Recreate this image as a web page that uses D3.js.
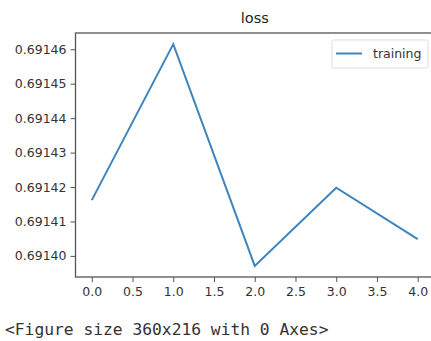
<!DOCTYPE html>
<html>
<head>
<meta charset="utf-8">
<script src="https://cdn.jsdelivr.net/npm/d3@7"></script>
<style>
  html, body { margin: 0; padding: 0; background: #fff; }
  svg { display: block; }
</style>
</head>
<body>
<div id="chart"></div>
<script>
(function() {
  const width = 431;
  const height = 341;

  // data
  const epochs = [0, 1, 2, 3, 4];
  const loss = [0.6914162, 0.6914615, 0.6913971, 0.6914198, 0.6914049];
  const xTicks = [0, 0.5, 1, 1.5, 2, 2.5, 3, 3.5, 4];
  const yTicks = [0.69140, 0.69141, 0.69142, 0.69143, 0.69144, 0.69145, 0.69146];
  const seriesName = "training";
  const title = "loss";
  const footer = "<Figure size 360x216 with 0 Axes>";

  const m = { left: 75.5, right: 434, top: 33, bottom: 277 };
  const sans = "'DejaVu Sans', sans-serif";

  const svg = d3.select("#chart")
    .append("svg")
    .attr("width", width)
    .attr("height", height)
    .style("font-family", sans);

  // matplotlib-style 5% margins
  const xPad = (d3.max(epochs) - d3.min(epochs)) * 0.05;
  const yPad = (d3.max(loss) - d3.min(loss)) * 0.05;

  const x = d3.scaleLinear()
    .domain([d3.min(epochs) - xPad, d3.max(epochs) + xPad])
    .range([m.left, m.right]);
  const y = d3.scaleLinear()
    .domain([d3.min(loss) - yPad, d3.max(loss) + yPad])
    .range([m.bottom, m.top]);

  // Axes
  const xAxis = svg.append("g")
    .attr("transform", `translate(0,${m.bottom})`)
    .call(d3.axisBottom(x).tickValues(xTicks).tickFormat(d3.format(".1f"))
      .tickSize(5).tickPadding(5).tickSizeOuter(0));
  const yAxis = svg.append("g")
    .attr("transform", `translate(${m.left},0)`)
    .call(d3.axisLeft(y).tickValues(yTicks).tickFormat(d3.format(".5f"))
      .tickSize(5).tickPadding(4).tickSizeOuter(0));

  [xAxis, yAxis].forEach(a => {
    a.attr("font-family", sans);
    a.select(".domain").remove();
    a.selectAll(".tick line").attr("stroke", "#555").attr("stroke-width", 1);
    a.selectAll(".tick text")
      .attr("fill", "#333")
      .attr("font-size", "12.5px");
  });

  // Frame
  svg.append("rect")
    .attr("x", m.left)
    .attr("y", m.top)
    .attr("width", m.right - m.left)
    .attr("height", m.bottom - m.top)
    .attr("fill", "none")
    .attr("stroke", "#555")
    .attr("stroke-width", 1.3);

  // Line
  const line = d3.line()
    .x((d, i) => x(epochs[i]))
    .y(d => y(d));

  svg.append("path")
    .datum(loss)
    .attr("d", line)
    .attr("fill", "none")
    .attr("stroke", "#3f84bd")
    .attr("stroke-width", 2);

  // Title
  svg.append("text")
    .attr("x", (m.left + m.right) / 2)
    .attr("y", 23)
    .attr("text-anchor", "middle")
    .attr("font-size", "14.5px")
    .attr("fill", "#222")
    .text(title);

  // Legend
  const legend = svg.append("g")
    .attr("transform", "translate(332,40)");
  legend.append("rect")
    .attr("width", 96).attr("height", 28)
    .attr("rx", 2)
    .attr("fill", "#fff")
    .attr("stroke", "#ddd");
  legend.append("line")
    .attr("x1", 4).attr("x2", 30)
    .attr("y1", 13.5).attr("y2", 13.5)
    .attr("stroke", "#3f84bd")
    .attr("stroke-width", 2);
  legend.append("text")
    .attr("x", 41).attr("y", 18)
    .attr("font-size", "12.5px")
    .attr("fill", "#333")
    .text(seriesName);

  // Footer printed below the figure
  svg.append("text")
    .attr("x", 5)
    .attr("y", 335)
    .style("font-family", "'DejaVu Sans Mono', 'Liberation Mono', monospace")
    .attr("font-size", "16.3px")
    .attr("fill", "#333")
    .text(footer);
})();
</script>
</body>
</html>
